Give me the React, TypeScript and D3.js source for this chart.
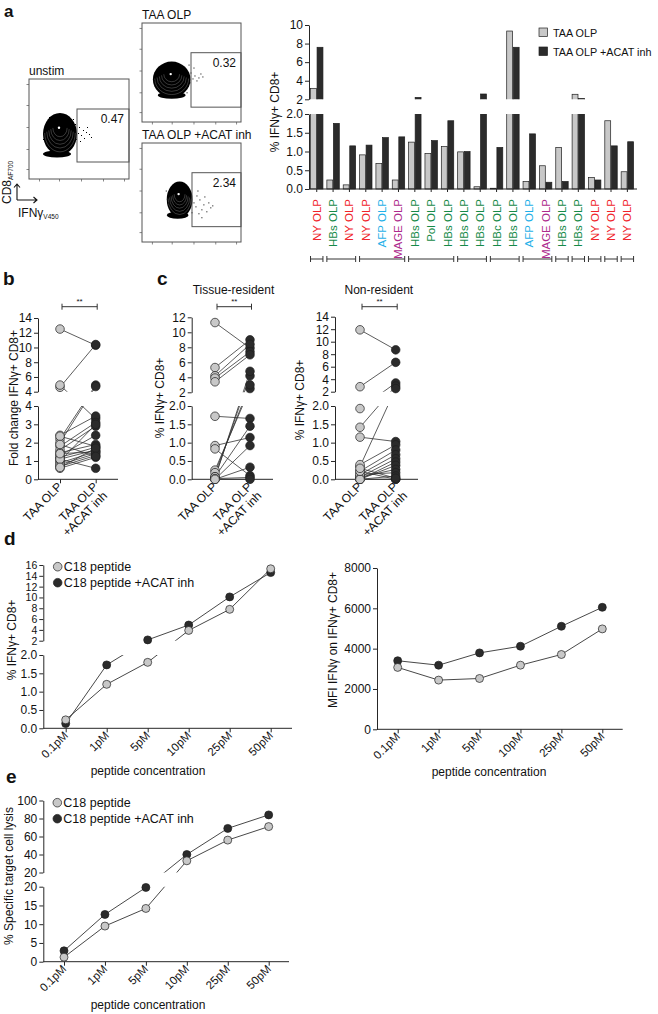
import { useEffect, useRef } from "react";
import * as d3 from "d3";

const FONT = "'Liberation Sans', Arial, Helvetica, sans-serif";
const LIGHT = "#c8c8c8";
const DARK = "#2b2b2b";
const INK = "#262626";

// ---- a: flow plots (plot units 0-100 on both axes)
const flowTitles = ["unstim", "TAA OLP", "TAA OLP +ACAT inh"];
const flowPct = ["0.47", "0.32", "2.34"];
const flowGates = [[48, 17, 70], [49.5, 15, 70], [50.5, 15.5, 70]]; // x0, y0, y1
const flowBlobs = [[31, 45, 17, 21], [30, 43, 19, 18], [38, 43, 13, 18]]; // cx, cy, rx, ry
const flowPiles = [[28, 25, 14, 3.5], [30, 27, 14, 3.5], [36, 27, 11, 3.5]];
const flowEvents = [
  [[47, 40], [49, 46], [50, 52], [52, 44], [54, 49], [55, 41], [57, 47], [60, 45], [62, 42], [46, 55], [51, 38], [58, 52], [14, 40], [15, 50], [20, 62], [44, 60]],
  [[49, 50], [51, 44], [53, 47], [55, 42], [57, 45], [59, 49], [52, 55], [48, 40], [61, 46], [47, 58], [12, 42], [14, 50], [45, 30]],
  [[50, 30], [52, 40], [54, 36], [55, 47], [57, 29], [58, 43], [60, 33], [62, 38], [63, 46], [65, 31], [67, 40], [69, 35], [71, 37], [56, 52], [60, 25], [26, 40], [24, 52]],
];
const flowTicks = [10, 30, 52, 74, 95];

// ---- a: bar chart
const olpLabels = ["NY OLP", "HBs OLP", "NY OLP", "NY OLP", "AFP OLP", "MAGE OLP", "HBs OLP", "Pol OLP", "HBs OLP", "HBs OLP",
  "HBs OLP", "HBc OLP", "HBs OLP", "AFP OLP", "MAGE OLP", "HBs OLP", "HBs OLP", "NY OLP", "NY OLP", "NY OLP"];
const olpTaa = [3.18, 0.24, 0.11, 0.91, 0.68, 0.24, 1.25, 0.95, 1.13, 0.99, 0.06, 0.02, 9.35, 0.2, 0.62, 1.11, 2.54, 0.31, 1.82, 0.46];
const olpAcat = [7.6, 1.75, 1.15, 1.17, 1.37, 1.39, 2.2, 1.29, 1.82, 1.0, 2.57, 1.11, 7.6, 1.47, 0.18, 0.2, 2.1, 0.24, 1.15, 1.26];
const donorGroups = [[0, 0], [1, 2], [3, 5], [6, 8], [9, 10], [11, 12], [13, 14], [15, 15], [16, 16], [17, 17], [18, 18], [19, 19]];
const antigenColor: Record<string, string> = {
  NY: "#f0232a", HBs: "#168a48", HBc: "#168a48", Pol: "#168a48", AFP: "#1fb0e8", MAGE: "#ad2a8c",
};

// ---- b, c: paired dot plots
const pairCats = ["TAA OLP", "TAA OLP +ACAT inh"];
const foldTaa = [12.5, 4.6, 4.9, 2.2, 2.0, 2.4, 1.8, 1.6, 1.45, 1.3, 1.2, 1.1, 1.0, 0.9, 0.8, 0.7, 0.6, 1.1, 2.35, 1.4, 0.65, 1.9];
const foldAcat = [10.3, 10.4, 3.3, 4.9, 4.7, 3.45, 3.1, 2.9, 1.9, 2.4, 1.75, 1.6, 3.0, 1.5, 1.4, 1.3, 1.2, 0.6, 1.8, 1.5, 1.7, 1.25];
const tissueTaa = [11.3, 5.3, 4.2, 3.9, 3.4, 0.25, 0.18, 0.07, 0.03, 1.72, 0.92, 0.83, 0.07, 0.0, 0.0, 0.02, 0.0];
const tissueAcat = [7.9, 9.0, 8.4, 7.4, 7.0, 2.5, 3.0, 4.2, 4.8, 1.66, 1.14, 0.1, 1.45, 0.92, 0.33, 0.05, 0.0];
const nonresTaa = [11.9, 2.8, 1.93, 1.42, 0.35, 1.15, 0.4, 0.22, 0.13, 0.06, 0.0, 0.0, 0.06, 0.13, 0.0, 0.0, 0.22, 0.3];
const nonresAcat = [8.7, 6.7, 3.4, 2.9, 2.5, 1.03, 0.94, 0.8, 0.67, 0.56, 0.47, 0.38, 0.27, 0.18, 0.09, 0.0, 0.0, 0.03];

// ---- d, e: dose response
const doses = ["0.1pM", "1pM", "5pM", "10pM", "25pM", "50pM"];
const pctC18 = [0.23, 1.2, 1.8, 3.9, 7.8, 15.3];
const pctC18Acat = [0.13, 1.73, 2.15, 4.9, 10.1, 14.6];
const mfiC18 = [3070, 2440, 2520, 3180, 3710, 4980];
const mfiC18Acat = [3400, 3180, 3790, 4120, 5110, 6050];
const lysisC18 = [1.2, 9.5, 14.2, 33, 56, 71];
const lysisC18Acat = [2.9, 12.6, 19.8, 40, 69, 84];
const seriesNames = ["C18 peptide", "C18 peptide +ACAT inh"];

type Seg = { split: number; lower: any; upper: any };
const posOf = (s: Seg) => (v: number) => (v <= s.split || !s.upper ? s.lower(v) : s.upper(v));

function yAxis(svg: any, scale: any, ticks: number[], x: number, fmt: any, size = 11) {
  const g = svg
    .append("g")
    .attr("transform", `translate(${x},0)`)
    .call(d3.axisLeft(scale).tickValues(ticks).tickSize(4).tickSizeOuter(0).tickPadding(2).tickFormat(fmt));
  g.attr("font-family", FONT).attr("font-size", size);
  g.select(".domain").attr("stroke", INK);
  g.selectAll(".tick line").attr("stroke", INK);
  g.selectAll(".tick text").attr("fill", "#111");
  return g;
}

function text(g: any, x: number, y: number, s: string, size = 11.5, anchor = "start", weight = "normal") {
  return g
    .append("text")
    .attr("x", x)
    .attr("y", y)
    .attr("font-family", FONT)
    .attr("font-size", size)
    .attr("font-weight", weight)
    .attr("text-anchor", anchor)
    .attr("fill", "#111")
    .text(s);
}

function rotLabel(svg: any, x: number, y: number, s: string, size = 11.5) {
  svg
    .append("text")
    .attr("transform", `translate(${x},${y}) rotate(-90)`)
    .attr("text-anchor", "middle")
    .attr("font-family", FONT)
    .attr("font-size", size)
    .attr("fill", "#111")
    .text(s);
}

function segClip(defs: any, id: string, x0: number, x1: number, seg: Seg, parts = ["u", "l"]) {
  const cp = defs.append("clipPath").attr("id", id);
  if (parts.includes("u") && seg.upper) {
    const [b, t] = seg.upper.range();
    cp.append("rect").attr("x", x0).attr("y", t - 40).attr("width", x1 - x0).attr("height", b - t + 40);
  }
  if (parts.includes("l")) {
    const [b, t] = seg.lower.range();
    const top = seg.upper ? t : t - 40;
    cp.append("rect").attr("x", x0).attr("y", top).attr("width", x1 - x0).attr("height", b - top + 40);
  }
}

function drawFlow(svg: any) {
  const layout = [
    { x: 29, y: 79, w: 100, h: 100, ty: 75 },
    { x: 142, y: 23, w: 99, h: 99, ty: 19 },
    { x: 142, y: 143, w: 99, h: 99, ty: 139 },
  ];
  flowTitles.forEach((title, i) => {
    const L = layout[i];
    const fx = d3.scaleLinear().domain([0, 100]).range([L.x, L.x + L.w]);
    const fy = d3.scaleLinear().domain([0, 100]).range([L.y + L.h, L.y]);
    const g = svg.append("g");
    const ax = g.append("g").attr("transform", `translate(${L.x},0)`)
      .call(d3.axisLeft(fy).tickValues(flowTicks).tickSize(2.5).tickSizeOuter(0).tickFormat(() => ""));
    const bx = g.append("g").attr("transform", `translate(0,${L.y + L.h})`)
      .call(d3.axisBottom(fx).tickValues(flowTicks).tickSize(2.5).tickSizeOuter(0).tickFormat(() => ""));
    [ax, bx].forEach((a) => {
      a.select(".domain").remove();
      a.selectAll(".tick line").attr("stroke", "#555").attr("stroke-width", 0.7);
    });
    // pile-up of events on the axis
    const [px, py, prx, pry] = flowPiles[i];
    g.append("ellipse").attr("cx", fx(px)).attr("cy", fy(py)).attr("rx", fx(px + prx) - fx(px)).attr("ry", fy(py) - fy(py + pry)).attr("fill", "#000");
    // main population
    const [cx, cy, rx, ry] = flowBlobs[i];
    g.append("ellipse")
      .attr("cx", fx(cx)).attr("cy", fy(cy))
      .attr("rx", fx(cx + rx) - fx(cx)).attr("ry", fy(cy) - fy(cy + ry))
      .attr("fill", "#000");
    // contour lines, visible in the lower half
    [0.9, 0.78, 0.66, 0.54, 0.42].forEach((s) => {
      const ccy = cy + (1 - s) * ry * 0.5;
      const X = fx(cx), Y = fy(ccy);
      const RX = fx(cx + rx * s) - fx(cx), RY = fy(ccy) - fy(ccy + ry * s);
      g.append("path")
        .attr("d", `M${X - RX},${Y} A${RX},${RY} 0 0 0 ${X + RX},${Y}`)
        .attr("fill", "none").attr("stroke", "#fff").attr("stroke-width", 0.4).attr("stroke-opacity", 0.55);
    });
    g.append("circle").attr("cx", fx(cx) - 1).attr("cy", fy(cy + ry * 0.3)).attr("r", 1.2).attr("fill", "#fff");
    g.selectAll(".ev").data(flowEvents[i]).enter().append("rect")
      .attr("x", (d: number[]) => fx(d[0])).attr("y", (d: number[]) => fy(d[1]))
      .attr("width", 1).attr("height", 1).attr("fill", "#000");
    g.append("rect").attr("x", L.x).attr("y", L.y).attr("width", L.w).attr("height", L.h)
      .attr("fill", "none").attr("stroke", "#555").attr("stroke-width", 1);
    const [gx, gy0, gy1] = flowGates[i];
    g.append("rect").attr("x", fx(gx)).attr("y", fy(gy1)).attr("width", fx(100) - fx(gx)).attr("height", fy(gy0) - fy(gy1))
      .attr("fill", "none").attr("stroke", "#555").attr("stroke-width", 1);
    text(g, fx(95), fy(gy1) + 14, flowPct[i], 12, "end");
    text(g, L.x, L.ty, title, 12);
  });
  // axis key
  const k = svg.append("g");
  const t = k.append("text").attr("transform", "translate(11,204) rotate(-90)").attr("font-family", FONT).attr("font-size", 12).attr("fill", "#111");
  t.append("tspan").text("CD8");
  t.append("tspan").attr("font-size", 6.5).attr("dy", 2).text("AF700");
  k.append("path").attr("d", "M17,200 V184 M14,187.5 L17,184 L20,187.5 M17,200 H37 M33.5,197 L37,200 L33.5,203")
    .attr("fill", "none").attr("stroke", "#111").attr("stroke-width", 1.1);
  const t2 = k.append("text").attr("x", 18).attr("y", 217).attr("font-family", FONT).attr("font-size", 12).attr("fill", "#111");
  t2.append("tspan").text("IFNγ");
  t2.append("tspan").attr("font-size", 6.5).attr("dy", 2).text("V450");
}

function drawBars(svg: any, defs: any) {
  const seg: Seg = {
    split: 2,
    lower: d3.scaleLinear().domain([0, 2]).range([189, 114]),
    upper: d3.scaleLinear().domain([2, 10]).range([99.3, 25]),
  };
  const n = olpLabels.length;
  const gx = d3.scaleBand<number>().domain(d3.range(n)).range([306.6, 637.5]).padding(0.24);
  const sub = d3.scaleBand<string>().domain(["taa", "acat"]).range([0, gx.bandwidth()]).paddingInner(0.1);
  segClip(defs, "barU", 309.5, 645, seg, ["u"]);
  segClip(defs, "barL", 309.5, 645, seg, ["l"]);
  ([["barU", seg.upper, 2], ["barL", seg.lower, 0]] as any[]).forEach(([cid, sc, base]) => {
    const g = svg.append("g").attr("clip-path", `url(#${cid})`);
    olpTaa.forEach((v, i) => {
      ([[v, "taa", LIGHT], [olpAcat[i], "acat", DARK]] as any[]).forEach(([val, key, fill]) => {
        if (val <= base) return;
        const top = sc(val);
        const bottom = sc(base) + (base > 0 ? 6 : 0);
        g.append("rect")
          .attr("x", (gx(i) as number) + (sub(key) as number))
          .attr("y", top)
          .attr("width", sub.bandwidth())
          .attr("height", bottom - top)
          .attr("fill", fill)
          .attr("stroke", "#1e1e1e")
          .attr("stroke-width", 0.7);
      });
    });
  });
  yAxis(svg, seg.upper, [2, 4, 6, 8, 10], 309, d3.format("d"), 12);
  yAxis(svg, seg.lower, [0, 0.5, 1, 1.5, 2], 309, d3.format(".1f"), 12);
  svg.append("line").attr("x1", 309).attr("x2", 637).attr("y1", 189).attr("y2", 189).attr("stroke", INK);
  rotLabel(svg, 279, 112, "% IFNγ+ CD8+", 12);
  olpLabels.forEach((lab, i) => {
    const cx = (gx(i) as number) + gx.bandwidth() / 2;
    svg.append("line").attr("x1", cx).attr("x2", cx).attr("y1", 189).attr("y2", 192).attr("stroke", INK);
    svg.append("text")
      .attr("transform", `translate(${cx + 4},199) rotate(-90)`)
      .attr("text-anchor", "end")
      .attr("font-family", FONT)
      .attr("font-size", 11.5)
      .attr("fill", antigenColor[lab.split(" ")[0]])
      .text(lab);
  });
  donorGroups.forEach(([a, b]) => {
    const x0 = gx(a) as number;
    const x1 = (gx(b) as number) + gx.bandwidth();
    svg.append("path").attr("d", `M${x0},256 V262 M${x0},259 H${x1} M${x1},256 V262`)
      .attr("fill", "none").attr("stroke", "#333").attr("stroke-width", 1);
  });
  // legend
  [["TAA OLP", LIGHT, 28], ["TAA OLP +ACAT inh", DARK, 47]].forEach(([lab, fill, y]: any) => {
    svg.append("rect").attr("x", 539).attr("y", y).attr("width", 8.5).attr("height", 8.5).attr("fill", fill).attr("stroke", "#222").attr("stroke-width", 0.7);
    text(svg, 553, y + 8.5, lab, 10.8);
  });
}

function bracket(svg: any, x0: number, x1: number, y: number) {
  svg.append("path").attr("d", `M${x0},${y - 3} V${y + 3} M${x0},${y} H${x1} M${x1},${y - 3} V${y + 3}`)
    .attr("fill", "none").attr("stroke", "#333").attr("stroke-width", 1);
  text(svg, (x0 + x1) / 2, y - 2.5, "**", 8, "middle");
}

function drawPaired(svg: any, defs: any, cfg: any) {
  const { id, axisX, xEnd, cats, seg, uTicks, lTicks, uFmt, lFmt, taa, acat } = cfg;
  const x = d3.scalePoint<string>().domain(pairCats).range(cats);
  const y = posOf(seg);
  const base = seg.lower.range()[0];
  segClip(defs, id, axisX, xEnd, seg);
  yAxis(svg, seg.upper, uTicks, axisX, uFmt, 12);
  yAxis(svg, seg.lower, lTicks, axisX, lFmt, 12);
  const xa = svg.append("g").attr("transform", `translate(0,${base})`)
    .call(d3.axisBottom(x).tickSize(4).tickSizeOuter(0).tickFormat(() => ""));
  xa.select(".domain").remove();
  xa.selectAll(".tick line").attr("stroke", INK);
  xa.append("line").attr("x1", axisX).attr("x2", xEnd).attr("stroke", INK);
  pairCats.forEach((c, i) => {
    const t = svg.append("text")
      .attr("transform", `translate(${(x(c) as number) + 3},${base + 8}) rotate(-45)`)
      .attr("text-anchor", "end").attr("font-family", FONT).attr("font-size", 12).attr("fill", "#111");
    if (i === 0) t.text(c);
    else {
      t.append("tspan").attr("x", 0).text("TAA OLP");
      t.append("tspan").attr("x", 0).attr("dy", "1.1em").text("+ACAT inh");
    }
  });
  const lg = svg.append("g").attr("clip-path", `url(#${id})`);
  taa.forEach((v: number, i: number) => {
    lg.append("line")
      .attr("x1", x(pairCats[0])).attr("y1", y(v))
      .attr("x2", x(pairCats[1])).attr("y2", y(acat[i]))
      .attr("stroke", "#333").attr("stroke-width", 0.8);
  });
  ([[taa, pairCats[0], LIGHT], [acat, pairCats[1], DARK]] as any[]).forEach(([vals, c, fill]) => {
    svg.append("g").selectAll("circle").data(vals).enter().append("circle")
      .attr("cx", x(c)).attr("cy", (d: number) => y(d)).attr("r", 4.3)
      .attr("fill", fill).attr("stroke", "#1e1e1e").attr("stroke-width", 0.7);
  });
  bracket(svg, cats[0] + 2, cats[1] + 1.5, 306.7);
  rotLabel(svg, cfg.labelX, cfg.labelY, cfg.yLabel, 12);
  if (cfg.title) text(svg, (cats[0] + cats[1]) / 2 + 1, 294, cfg.title, 12, "middle");
}

function drawDose(svg: any, defs: any, cfg: any) {
  const { id, axisX, xEnd, xr, seg, uTicks, lTicks, uFmt, lFmt, a, b } = cfg;
  const x = d3.scalePoint<string>().domain(doses).range(xr);
  const y = posOf(seg);
  const base = seg.lower.range()[0];
  segClip(defs, id, axisX, xEnd, seg);
  if (seg.upper) yAxis(svg, seg.upper, uTicks, axisX, uFmt, cfg.uSize || 12);
  yAxis(svg, seg.lower, lTicks, axisX, lFmt, 12);
  const xa = svg.append("g").attr("transform", `translate(0,${base})`)
    .call(d3.axisBottom(x).tickSize(4).tickSizeOuter(0).tickFormat(() => ""));
  xa.select(".domain").remove();
  xa.selectAll(".tick line").attr("stroke", INK);
  xa.append("line").attr("x1", axisX).attr("x2", xEnd).attr("stroke", INK);
  doses.forEach((d) => {
    svg.append("text")
      .attr("transform", `translate(${(x(d) as number) + 3},${base + 8}) rotate(-45)`)
      .attr("text-anchor", "end").attr("font-family", FONT).attr("font-size", 11.5).attr("fill", "#111")
      .text(d);
  });
  const line = d3.line<number>().x((_, i) => x(doses[i]) as number).y((v) => y(v));
  const lg = svg.append("g").attr("clip-path", `url(#${id})`);
  [b, a].forEach((vals: number[]) => {
    lg.append("path").datum(vals).attr("d", line).attr("fill", "none").attr("stroke", "#333").attr("stroke-width", 0.9);
  });
  ([[b, DARK], [a, LIGHT]] as any[]).forEach(([vals, fill]) => {
    svg.append("g").selectAll("circle").data(vals).enter().append("circle")
      .attr("cx", (_: number, i: number) => x(doses[i])).attr("cy", (d: number) => y(d)).attr("r", 4)
      .attr("fill", fill).attr("stroke", "#1e1e1e").attr("stroke-width", 0.7);
  });
  text(svg, cfg.titleX, base + 47, "peptide concentration", 12, "middle");
  rotLabel(svg, cfg.labelX, cfg.labelY, cfg.yLabel, 12);
  if (cfg.legend) {
    const [lx, ly] = cfg.legend;
    ([[LIGHT, 0], [DARK, 1]] as any[]).forEach(([fill, k]) => {
      svg.append("circle").attr("cx", lx).attr("cy", ly + k * 16).attr("r", 4.3).attr("fill", fill).attr("stroke", "#1e1e1e").attr("stroke-width", 0.7);
      text(svg, lx + 6, ly + k * 16 + 4.3, seriesNames[k], 12.5);
    });
  }
}

export default function App() {
  const ref = useRef<SVGSVGElement | null>(null);

  useEffect(() => {
    if (!ref.current) return;
    const svg = d3.select(ref.current);
    svg.selectAll("*").remove();
    const defs = svg.append("defs");

    drawFlow(svg);
    drawBars(svg, defs);

    drawPaired(svg, defs, {
      id: "pb", axisX: 38, xEnd: 118, cats: [60, 95.7],
      seg: { split: 4, lower: d3.scaleLinear().domain([0, 4]).range([479.3, 406]), upper: d3.scaleLinear().domain([4, 14]).range([391.7, 318]) },
      uTicks: [4, 6, 8, 10, 12, 14], lTicks: [0, 1, 2, 3, 4], uFmt: d3.format("d"), lFmt: d3.format("d"),
      taa: foldTaa, acat: foldAcat, yLabel: "Fold change IFNγ+ CD8+", labelX: 17.5, labelY: 398,
    });
    drawPaired(svg, defs, {
      id: "pc1", axisX: 191.7, xEnd: 273, cats: [215, 250],
      seg: { split: 2, lower: d3.scaleLinear().domain([0, 2]).range([479.3, 406]), upper: d3.scaleLinear().domain([2, 12]).range([392.3, 317.3]) },
      uTicks: [2, 4, 6, 8, 10, 12], lTicks: [0, 0.5, 1, 1.5, 2], uFmt: d3.format("d"), lFmt: d3.format(".1f"),
      taa: tissueTaa, acat: tissueAcat, yLabel: "% IFNγ+ CD8+", labelX: 163.5, labelY: 398, title: "Tissue-resident",
    });
    drawPaired(svg, defs, {
      id: "pc2", axisX: 335, xEnd: 418, cats: [360, 395.7],
      seg: { split: 2, lower: d3.scaleLinear().domain([0, 2]).range([479.3, 406]), upper: d3.scaleLinear().domain([2, 14]).range([391.7, 316.7]) },
      uTicks: [2, 4, 6, 8, 10, 12, 14], lTicks: [0, 0.5, 1, 1.5, 2], uFmt: d3.format("d"), lFmt: d3.format(".1f"),
      taa: nonresTaa, acat: nonresAcat, yLabel: "% IFNγ+ CD8+", labelX: 304, labelY: 400, title: "Non-resident",
    });

    drawDose(svg, defs, {
      id: "dl", axisX: 43.3, xEnd: 292, xr: [65.7, 270.7], uSize: 10.5,
      seg: { split: 2, lower: d3.scaleLinear().domain([0, 2]).range([728.3, 655]), upper: d3.scaleLinear().domain([2, 16]).range([640.7, 565]) },
      uTicks: [2, 4, 6, 8, 10, 12, 14, 16], lTicks: [0, 0.5, 1, 1.5, 2], uFmt: d3.format("d"), lFmt: d3.format(".1f"),
      a: pctC18, b: pctC18Acat, yLabel: "% IFNγ+ CD8+", labelX: 16, labelY: 640, legend: [57.7, 566.7], titleX: 148,
    });
    drawDose(svg, defs, {
      id: "dr", axisX: 377, xEnd: 622.7, xr: [397.7, 602.3],
      seg: { split: Infinity, lower: d3.scaleLinear().domain([0, 8000]).range([729.3, 568]), upper: null },
      lTicks: [0, 2000, 4000, 6000, 8000], lFmt: d3.format("d"),
      a: mfiC18, b: mfiC18Acat, yLabel: "MFI IFNγ on IFNγ+ CD8+", labelX: 337, labelY: 640, titleX: 489,
    });
    drawDose(svg, defs, {
      id: "e", axisX: 43.3, xEnd: 289, xr: [64, 268.7],
      seg: { split: 20, lower: d3.scaleLinear().domain([0, 20]).range([961.7, 886.7]), upper: d3.scaleLinear().domain([20, 100]).range([872.5, 800.5]) },
      uTicks: [20, 40, 60, 80, 100], lTicks: [0, 5, 10, 15, 20], uFmt: d3.format("d"), lFmt: d3.format("d"),
      a: lysisC18, b: lysisC18Acat, yLabel: "% Specific target cell lysis", labelX: 12.5, labelY: 876, legend: [57.3, 802.7], titleX: 148,
    });

    // panel letters
    ([["a", 4, 17, 17], ["b", 3, 285, 19], ["c", 157, 285, 19], ["d", 4, 545, 19], ["e", 6, 783, 19]] as any[]).forEach(([l, x, y, s]) =>
      text(svg, x, y, l, s, "start", "bold")
    );
  }, []);

  return (
    <svg
      ref={ref}
      width={658}
      height={1014}
      style={{ position: "absolute", left: 0, top: 0, background: "#fff" }}
    />
  );
}
